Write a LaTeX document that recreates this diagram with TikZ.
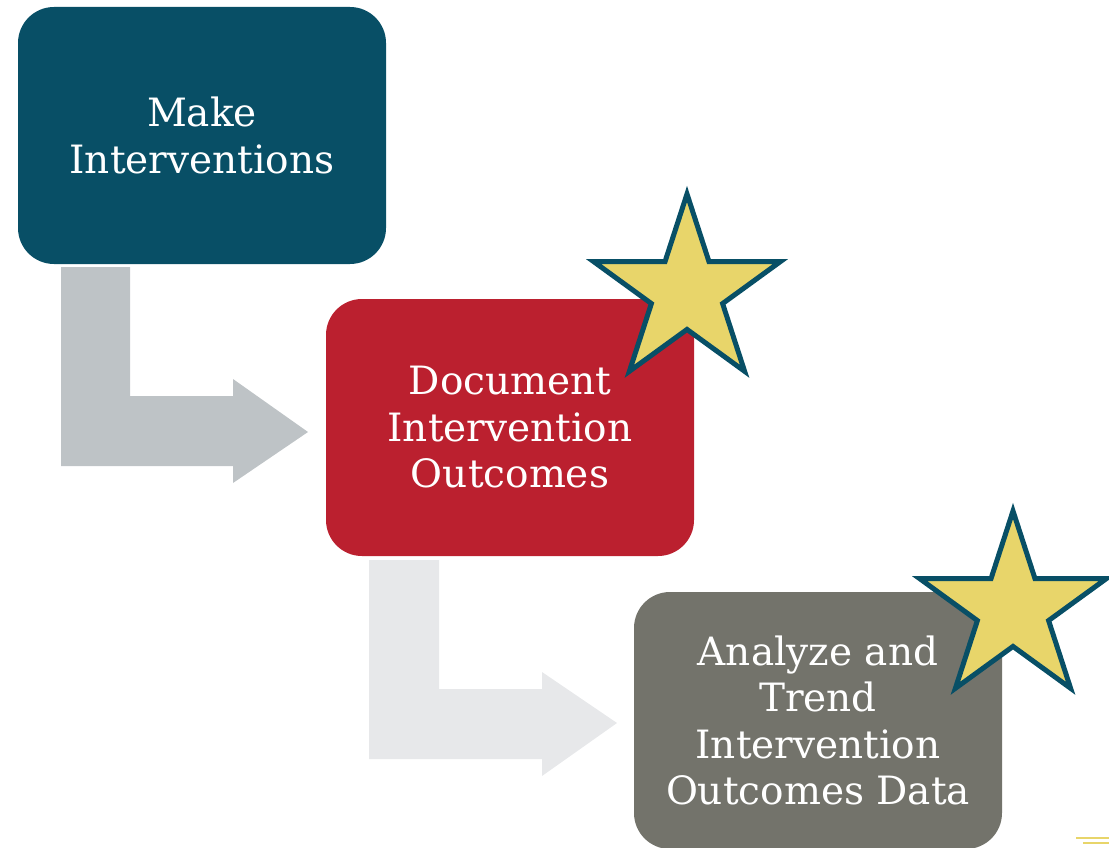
\documentclass[tikz,border=0pt]{standalone}
\usepackage{fontspec}
\setmainfont{DejaVu Serif}
\usepackage{tikz}
\usetikzlibrary{shapes.geometric, positioning, calc}
\definecolor{tealbox}{HTML}{084F66}
\definecolor{redbox}{HTML}{BB202F}
\definecolor{graybox}{HTML}{73736B}
\definecolor{arrowdark}{HTML}{BEC3C6}
\definecolor{arrowlight}{HTML}{E7E8EA}
\definecolor{starfill}{HTML}{E8D56A}
\tikzstyle{stepbox} = [rectangle, rounded corners=36pt, minimum width=368pt, minimum height=257pt, inner sep=0pt, outer sep=0pt, text centered, align=center, text=white, font=\fontsize{39}{46.5}\selectfont]
\tikzstyle{goldstar} = [star, star points=5, star point ratio=2.618, minimum size=196pt, inner sep=0pt, draw=tealbox, line width=5pt, fill=starfill]

\begin{document}
\begin{tikzpicture}[x=1pt, y=-1pt]

		\useasboundingbox (0,0) rectangle (1109,848);

		% bent arrows behind the boxes
		\fill[arrowdark] (61,267) -- (130,267) -- (130,396) -- (233,396) -- (233,379) -- (308,432) -- (233,483) -- (233,466) -- (61,466) -- cycle;
		\fill[arrowlight] (369,560) -- (439,560) -- (439,689) -- (542,689) -- (542,672) -- (617,723) -- (542,776) -- (542,759) -- (369,759) -- cycle;

		\node (make) [stepbox, fill=tealbox] at (202,135.5) {Make \\ Interventions};

		\node (document) [stepbox, fill=redbox, below right=35pt and -60pt of make] {Document \\ Intervention \\ Outcomes};

		\node (star1) [goldstar] at (687,292) {};

		\node (analyze) [stepbox, fill=graybox, below right=36pt and -60pt of document] {Analyze and \\ Trend \\ Intervention \\ Outcomes Data};

		\node (star2) [goldstar] at (1013,609) {};

		% bits of trim at the corner
		\draw[starfill, line width=1.5pt] (1076,838) -- (1109,838);
		\draw[starfill, line width=1.5pt] (1083,843) -- (1109,843);

\end{tikzpicture}
\end{document}
